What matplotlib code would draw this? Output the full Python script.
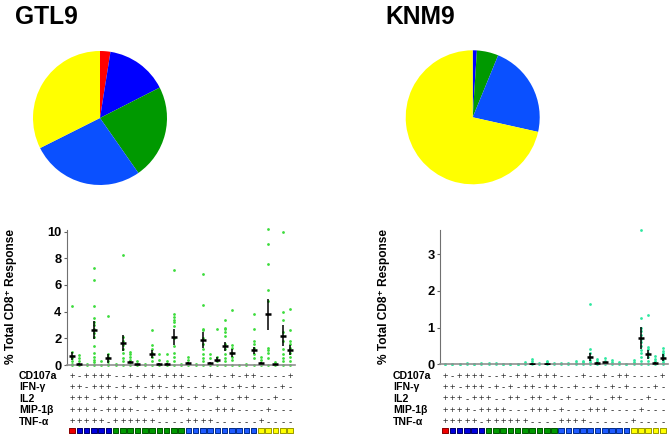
import matplotlib
matplotlib.use("Agg")
import matplotlib.pyplot as plt
import numpy as np

plt.rcParams['font.family'] = ['Liberation Sans', 'DejaVu Sans']

W, H = 670, 437

# functions (rows of the +/- table)
functions = ["CD107a", "IFN-\u03b3", "IL2", "MIP-1\u03b2", "TNF-\u03b1"]
table_rows = [
    "+-++++--+-++-+++---+--+-++----+",
    "++-+++-+-+-++-++--+--+-+-+---+-",
    "+++-+++--++-++-+-+--+--++---+--",
    "++++-++++---+++-+---+++----+---",
    "+++++-++++++----++++------+----",
]

# pie fractions: 5, 4, 3, 2, 1 functions
pie_colors = ["#ff0000", "#0000ff", "#009900", "#0a50ff", "#ffff00"]
sq_colors = ["#ee0000", "#0000dd", "#009900", "#1e5aff", "#ffff00"]
sq_edges = ["#880000", "#000066", "#005500", "#002a88", "#999900"]
gtl9_pie = [2.5, 15.0, 22.8, 27.3, 32.4]
knm9_pie = [0.0, 1.0, 5.2, 22.3, 71.5]

# individual donor responses (% of total CD8+ response)
gtl9_dots = [
    [4.45, 1.0, 0.7, 0.5, 0.3, 0.1, 0],
    [0.75, 0.5, 0.3, 0],
    [0.1, 0],
    [7.3, 6.4, 4.4, 3.5, 3.2, 3.0, 2.7, 2.4, 2.1, 1.4, 0.9, 0.6, 0.4, 0.2, 0],
    [0.3, 0],
    [3.7, 0.8, 0.6, 0.3, 0.1, 0],
    [0.1, 0],
    [8.25, 2.1, 1.8, 1.5, 1.2, 0.9, 0.5, 0.3, 0],
    [1.0, 0.8, 0.6, 0.4, 0.2, 0],
    [0.3, 0.1, 0],
    [0.1, 0],
    [2.6, 1.5, 1.2, 0.9, 0.6, 0.3, 0],
    [0.8, 0.4, 0],
    [0.8, 0.3, 0],
    [7.15, 3.8, 3.6, 3.4, 3.2, 2.9, 2.0, 1.4, 0.9, 0.6, 0.3, 0],
    [0.1, 0],
    [0.6, 0.4, 0],
    [0.1, 0],
    [6.85, 4.5, 2.7, 2.6, 2.0, 1.6, 1.2, 0.8, 0.5, 0.3, 0],
    [0.8, 0.5, 0],
    [2.7, 0.6, 0.3, 0],
    [3.4, 2.8, 2.7, 2.5, 2.2, 1.6, 1.2, 0.8, 0.5, 0.3, 0],
    [4.1, 1.5, 1.3, 0.9, 0.6, 0.4, 0],
    [0],
    [0.1, 0],
    [3.8, 2.7, 1.8, 1.6, 1.3, 0.8, 0.5, 0],
    [0.6, 0.4, 0],
    [10.2, 9.1, 7.55, 5.6, 4.8, 1.3, 1.1, 0.9, 0.5, 0],
    [0.2, 0],
    [10.0, 4.0, 3.4, 2.5, 1.8, 1.2, 0.8, 0.5, 0.3, 0],
    [4.2, 2.65, 1.8, 1.6, 1.3, 0.9, 0.6, 0.3, 0],
]
gtl9_mean = [0.65, 0.1, 0, 2.6, 0, 0.5, 0, 1.65, 0.2, 0.05, 0, 0.8, 0.1, 0.1, 2.1, 0,
             0.15, 0, 1.9, 0.15, 0.4, 1.4, 0.9, 0, 0, 1.1, 0.15, 3.8, 0.05, 2.2, 1.1]
gtl9_sem = [0.3, 0.05, 0, 0.68, 0, 0.33, 0, 0.57, 0.08, 0.03, 0, 0.3, 0.06, 0.06, 0.58, 0,
            0.05, 0, 0.6, 0.06, 0.2, 0.32, 0.3, 0, 0, 0.28, 0.05, 1.15, 0.02, 0.8, 0.37]

knm9_dots = [
    [0.02, 0], [0.02, 0], [0.02, 0], [0.03, 0], [0.02, 0], [0.04, 0], [0.03, 0],
    [0.04, 0], [0.02, 0], [0.02, 0], [0.02, 0], [0.05, 0],
    [0.15, 0.08, 0.04, 0],
    [0.04, 0],
    [0.1, 0.06, 0],
    [0.03, 0], [0.03, 0], [0.03, 0],
    [0.08, 0.03, 0],
    [0.1, 0.05, 0],
    [1.63, 0.42, 0.3, 0.2, 0.12, 0.05, 0],
    [0.15, 0.08, 0.03, 0],
    [0.18, 0.1, 0.05, 0],
    [0.12, 0.05, 0],
    [0.05, 0],
    [0.02, 0],
    [0.12, 0.06, 0],
    [3.67, 1.27, 1.0, 0.9, 0.8, 0.7, 0.6, 0.5, 0.4, 0.3, 0.2, 0.1, 0],
    [1.35, 0.48, 0.42, 0.3, 0.2, 0.1, 0],
    [0.22, 0.15, 0.08, 0],
    [0.45, 0.35, 0.3, 0.25, 0.2, 0.12, 0.06, 0],
]
knm9_mean = [0, 0, 0, 0, 0, 0, 0, 0, 0, 0, 0, 0, 0.02, 0, 0.02, 0,
             0, 0, 0, 0, 0.2, 0.03, 0.05, 0, 0, 0, 0, 0.72, 0.27, 0.03, 0.18]
knm9_sem = [0, 0, 0, 0, 0, 0, 0, 0, 0, 0, 0, 0, 0.01, 0, 0.01, 0,
            0, 0, 0, 0, 0.12, 0.02, 0.02, 0, 0, 0, 0, 0.3, 0.13, 0.02, 0.1]


def box(x0, y0, x1, y1):
    return [x0 / W, 1 - y1 / H, (x1 - x0) / W, (y1 - y0) / H]


def rysuj_pie(rect, values):
    ax = fig.add_axes(rect)
    ax.pie(values, colors=pie_colors, startangle=90, counterclock=False,
           wedgeprops=dict(linewidth=0))
    ax.set_xlim(-1, 1)
    ax.set_ylim(-1, 1)
    ax.set_aspect('equal')
    ax.axis('off')


def rysuj_kropki(rect, dots, mean, sem, ymax, ticks, dot_color):
    ax = fig.add_axes(rect)
    n = len(dots)
    for i, col in enumerate(dots):
        ax.scatter(np.full(len(col), i), col, s=4, color=dot_color, lw=0,
                   clip_on=False, zorder=2)
    mean = np.array(mean, dtype=float)
    sem = np.array(sem, dtype=float)
    idx = np.where(mean > 0)[0]
    ax.errorbar(idx, mean[idx], yerr=sem[idx], fmt='_', color='k', ms=5, mew=1.8,
                elinewidth=1.1, capsize=0, zorder=3)
    ax.set_xlim(-0.72, n - 1 + 0.7)
    ax.set_ylim(0, ymax)
    ax.set_yticks(ticks)
    ax.set_yticklabels([str(t) for t in ticks], fontsize=9.3, fontweight='bold')
    ax.set_xticks([])
    ax.tick_params(axis='y', length=2.5, width=0.8, pad=1.5, color='#606060')
    for s in ['top', 'right']:
        ax.spines[s].set_visible(False)
    ax.spines['left'].set_color('#707070')
    ax.spines['bottom'].set_color('#909090')
    ax.spines['bottom'].set_linewidth(1.2)
    return ax


def rysuj_tabele(x0, x1, label_x, n):
    ax = fig.add_axes(box(x0, 368, x1, 437))
    ax.set_xlim(-0.72, n - 1 + 0.7)
    ax.set_ylim(437, 368)
    ax.axis('off')
    row_y = [376, 387.3, 398.7, 410.2, 421.7]
    for r, (name, row) in enumerate(zip(functions, table_rows)):
        fig.text(label_x / W, 1 - row_y[r] / H, name, fontsize=7.6, fontweight='bold',
                 ha='left', va='center')
        for i, ch in enumerate(row):
            ax.text(i, row_y[r], ch, fontsize=6.8 if ch == '+' else 7, ha='center',
                    va='center', color='#222222')
    n_pos = [sum(row[i] == '+' for row in table_rows) for i in range(n)]
    kolory = [sq_colors[5 - k] for k in n_pos]
    krawedzie = [sq_edges[5 - k] for k in n_pos]
    ax.scatter(range(n), np.full(n, 430.5), marker='s', s=16, c=kolory,
               edgecolors=krawedzie, linewidths=0.7, clip_on=False)


fig = plt.figure(figsize=(W / 100, H / 100), dpi=100)

fig.text(15 / W, 1 - 24 / H, "GTL9", fontsize=17.7, fontweight='bold', va='baseline')
fig.text(385 / W, 1 - 24 / H, "KNM9", fontsize=17.7, fontweight='bold', va='baseline')

rysuj_pie(box(33, 51, 167, 185), gtl9_pie)
rysuj_pie(box(405.7, 50.3, 539.7, 184.3), knm9_pie)

rysuj_kropki(box(66.9, 230.3, 295.1, 365), gtl9_dots, gtl9_mean, gtl9_sem,
             10.1, [0, 2, 4, 6, 8, 10], '#3ddc3d')
rysuj_kropki(box(440, 230, 667.8, 364.3), knm9_dots, knm9_mean, knm9_sem,
             3.66, [0, 1, 2, 3], '#2ee8a0')

fig.text(11 / W, 1 - 297 / H, "% Total CD8\u207a Response", fontsize=8.6,
         fontweight='bold', rotation=90, ha='center', va='center')
fig.text(384 / W, 1 - 297 / H, "% Total CD8\u207a Response", fontsize=8.6,
         fontweight='bold', rotation=90, ha='center', va='center')

rysuj_tabele(66.9, 295.1, 19, 31)
rysuj_tabele(440, 667.8, 393, 31)

plt.savefig("out.png", dpi=100)
